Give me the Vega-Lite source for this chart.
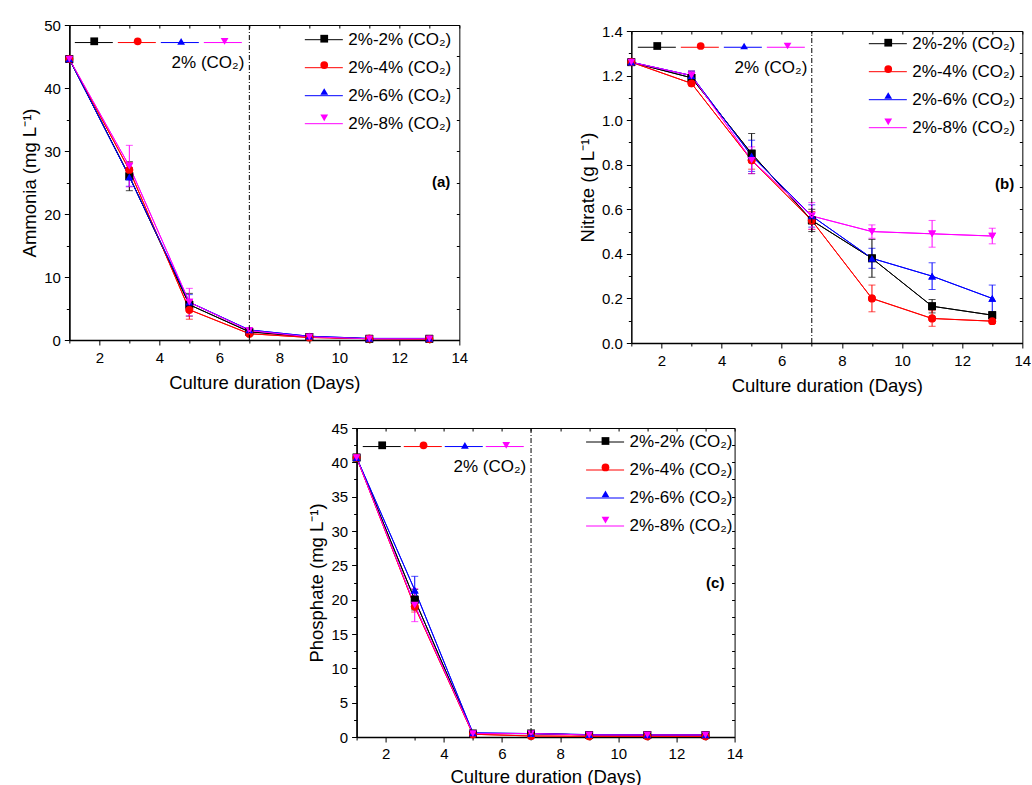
{
  "$schema": "https://vega.github.io/schema/vega-lite/v6.json",
  "background": "white",
  "padding": {"left": 20, "top": 17, "right": 0, "bottom": 0},
  "spacing": 25,
  "center": true,
  "datasets": {
    "ammonia": [
      {"day": 1, "series": "2%-2% (CO₂)", "value": 44.6, "err": 0.4},
      {"day": 1, "series": "2%-4% (CO₂)", "value": 44.6, "err": 0.4},
      {"day": 1, "series": "2%-6% (CO₂)", "value": 44.6, "err": 0.4},
      {"day": 1, "series": "2%-8% (CO₂)", "value": 44.6, "err": 0.4},
      {"day": 3, "series": "2%-2% (CO₂)", "value": 26.0, "err": 2.3},
      {"day": 3, "series": "2%-4% (CO₂)", "value": 27.0, "err": 1.2},
      {"day": 3, "series": "2%-6% (CO₂)", "value": 25.9, "err": 1.5},
      {"day": 3, "series": "2%-8% (CO₂)", "value": 27.6, "err": 3.3},
      {"day": 5, "series": "2%-2% (CO₂)", "value": 5.6, "err": 1.8},
      {"day": 5, "series": "2%-4% (CO₂)", "value": 4.8, "err": 1.5},
      {"day": 5, "series": "2%-6% (CO₂)", "value": 6.0, "err": 1.2},
      {"day": 5, "series": "2%-8% (CO₂)", "value": 6.0, "err": 2.2},
      {"day": 7, "series": "2%-2% (CO₂)", "value": 1.3, "err": 0.2},
      {"day": 7, "series": "2%-4% (CO₂)", "value": 1.0, "err": 0.2},
      {"day": 7, "series": "2%-6% (CO₂)", "value": 1.6, "err": 0.3},
      {"day": 7, "series": "2%-8% (CO₂)", "value": 1.5, "err": 0.3},
      {"day": 9, "series": "2%-2% (CO₂)", "value": 0.5, "err": 0.1},
      {"day": 9, "series": "2%-4% (CO₂)", "value": 0.4, "err": 0.1},
      {"day": 9, "series": "2%-6% (CO₂)", "value": 0.6, "err": 0.1},
      {"day": 9, "series": "2%-8% (CO₂)", "value": 0.5, "err": 0.1},
      {"day": 11, "series": "2%-2% (CO₂)", "value": 0.2, "err": 0.05},
      {"day": 11, "series": "2%-4% (CO₂)", "value": 0.2, "err": 0.05},
      {"day": 11, "series": "2%-6% (CO₂)", "value": 0.25, "err": 0.05},
      {"day": 11, "series": "2%-8% (CO₂)", "value": 0.2, "err": 0.05},
      {"day": 13, "series": "2%-2% (CO₂)", "value": 0.2, "err": 0.05},
      {"day": 13, "series": "2%-4% (CO₂)", "value": 0.15, "err": 0.05},
      {"day": 13, "series": "2%-6% (CO₂)", "value": 0.25, "err": 0.05},
      {"day": 13, "series": "2%-8% (CO₂)", "value": 0.2, "err": 0.05}
    ],
    "nitrate": [
      {"day": 1, "series": "2%-2% (CO₂)", "value": 1.26, "err": 0.01},
      {"day": 1, "series": "2%-4% (CO₂)", "value": 1.26, "err": 0.01},
      {"day": 1, "series": "2%-6% (CO₂)", "value": 1.26, "err": 0.01},
      {"day": 1, "series": "2%-8% (CO₂)", "value": 1.26, "err": 0.01},
      {"day": 3, "series": "2%-2% (CO₂)", "value": 1.19, "err": 0.03},
      {"day": 3, "series": "2%-4% (CO₂)", "value": 1.165, "err": 0.01},
      {"day": 3, "series": "2%-6% (CO₂)", "value": 1.2, "err": 0.02},
      {"day": 3, "series": "2%-8% (CO₂)", "value": 1.2, "err": 0.02},
      {"day": 5, "series": "2%-2% (CO₂)", "value": 0.85, "err": 0.09},
      {"day": 5, "series": "2%-4% (CO₂)", "value": 0.82, "err": 0.04},
      {"day": 5, "series": "2%-6% (CO₂)", "value": 0.84, "err": 0.07},
      {"day": 5, "series": "2%-8% (CO₂)", "value": 0.82, "err": 0.06},
      {"day": 7, "series": "2%-2% (CO₂)", "value": 0.55, "err": 0.05},
      {"day": 7, "series": "2%-4% (CO₂)", "value": 0.55, "err": 0.04},
      {"day": 7, "series": "2%-6% (CO₂)", "value": 0.57, "err": 0.05},
      {"day": 7, "series": "2%-8% (CO₂)", "value": 0.57, "err": 0.06},
      {"day": 9, "series": "2%-2% (CO₂)", "value": 0.38, "err": 0.085},
      {"day": 9, "series": "2%-4% (CO₂)", "value": 0.2, "err": 0.06},
      {"day": 9, "series": "2%-6% (CO₂)", "value": 0.38, "err": 0.045},
      {"day": 9, "series": "2%-8% (CO₂)", "value": 0.5, "err": 0.03},
      {"day": 11, "series": "2%-2% (CO₂)", "value": 0.165, "err": 0.03},
      {"day": 11, "series": "2%-4% (CO₂)", "value": 0.11, "err": 0.035},
      {"day": 11, "series": "2%-6% (CO₂)", "value": 0.3, "err": 0.06},
      {"day": 11, "series": "2%-8% (CO₂)", "value": 0.49, "err": 0.06},
      {"day": 13, "series": "2%-2% (CO₂)", "value": 0.125, "err": 0.01},
      {"day": 13, "series": "2%-4% (CO₂)", "value": 0.098, "err": 0.01},
      {"day": 13, "series": "2%-6% (CO₂)", "value": 0.2, "err": 0.06},
      {"day": 13, "series": "2%-8% (CO₂)", "value": 0.48, "err": 0.035}
    ],
    "phosphate": [
      {"day": 1, "series": "2%-2% (CO₂)", "value": 40.7, "err": 0.4},
      {"day": 1, "series": "2%-4% (CO₂)", "value": 40.7, "err": 0.4},
      {"day": 1, "series": "2%-6% (CO₂)", "value": 40.7, "err": 0.4},
      {"day": 1, "series": "2%-8% (CO₂)", "value": 40.7, "err": 0.4},
      {"day": 3, "series": "2%-2% (CO₂)", "value": 20.0, "err": 1.5},
      {"day": 3, "series": "2%-4% (CO₂)", "value": 19.0, "err": 0.8},
      {"day": 3, "series": "2%-6% (CO₂)", "value": 21.4, "err": 2.0},
      {"day": 3, "series": "2%-8% (CO₂)", "value": 19.2, "err": 2.4},
      {"day": 5, "series": "2%-2% (CO₂)", "value": 0.5, "err": 0.2},
      {"day": 5, "series": "2%-4% (CO₂)", "value": 0.4, "err": 0.2},
      {"day": 5, "series": "2%-6% (CO₂)", "value": 0.6, "err": 0.2},
      {"day": 5, "series": "2%-8% (CO₂)", "value": 0.5, "err": 0.2},
      {"day": 7, "series": "2%-2% (CO₂)", "value": 0.5, "err": 0.1},
      {"day": 7, "series": "2%-4% (CO₂)", "value": 0.15, "err": 0.1},
      {"day": 7, "series": "2%-6% (CO₂)", "value": 0.5, "err": 0.1},
      {"day": 7, "series": "2%-8% (CO₂)", "value": 0.5, "err": 0.1},
      {"day": 9, "series": "2%-2% (CO₂)", "value": 0.3, "err": 0.1},
      {"day": 9, "series": "2%-4% (CO₂)", "value": 0.1, "err": 0.05},
      {"day": 9, "series": "2%-6% (CO₂)", "value": 0.35, "err": 0.1},
      {"day": 9, "series": "2%-8% (CO₂)", "value": 0.3, "err": 0.1},
      {"day": 11, "series": "2%-2% (CO₂)", "value": 0.3, "err": 0.1},
      {"day": 11, "series": "2%-4% (CO₂)", "value": 0.1, "err": 0.05},
      {"day": 11, "series": "2%-6% (CO₂)", "value": 0.3, "err": 0.1},
      {"day": 11, "series": "2%-8% (CO₂)", "value": 0.3, "err": 0.1},
      {"day": 13, "series": "2%-2% (CO₂)", "value": 0.3, "err": 0.1},
      {"day": 13, "series": "2%-4% (CO₂)", "value": 0.1, "err": 0.05},
      {"day": 13, "series": "2%-6% (CO₂)", "value": 0.3, "err": 0.1},
      {"day": 13, "series": "2%-8% (CO₂)", "value": 0.3, "err": 0.1}
    ]
  },
  "vconcat": [
    {
      "spacing": 110,
      "hconcat": [
        {
          "width": 390,
          "height": 315,
          "data": {"name": "ammonia"},
          "resolve": {"axis": {"x": "independent", "y": "independent"}, "legend": {"color": "independent", "shape": "independent"}},
          "layer": [
            {
              "mark": {"type": "errorbar", "ticks": {"size": 7}, "thickness": 1},
              "encoding": {
                "x": {"field": "day", "type": "quantitative", "scale": {"domain": [1, 14], "nice": false, "zero": false}, "axis": null},
                "y": {"field": "value", "type": "quantitative", "scale": {"domain": [0, 50], "nice": false}, "axis": null},
                "yError": {"field": "err"},
                "color": {"field": "series", "type": "nominal", "scale": {"domain": ["2%-2% (CO₂)", "2%-4% (CO₂)", "2%-6% (CO₂)", "2%-8% (CO₂)"], "range": ["#000000", "#ff0000", "#0000ff", "#ff00ff"]}, "legend": null}
              }
            },
            {
              "mark": {"type": "line", "strokeWidth": 1},
              "encoding": {
                "x": {"field": "day", "type": "quantitative", "scale": {"domain": [1, 14], "nice": false, "zero": false}, "axis": {"orient": "bottom", "values": [2, 4, 6, 8, 10, 12, 14], "tickSize": 5, "domainWidth": 1.5, "title": "Culture duration (Days)", "titlePadding": 8, "labelPadding": 5, "labelFlush": false}},
                "y": {"field": "value", "type": "quantitative", "scale": {"domain": [0, 50], "nice": false}, "axis": {"orient": "left", "values": [0, 10, 20, 30, 40, 50], "tickSize": 5, "domainWidth": 1.5, "title": "Ammonia (mg L⁻¹)", "titlePadding": 4, "labelPadding": 4}},
                "color": {"field": "series", "type": "nominal", "scale": {"domain": ["2%-2% (CO₂)", "2%-4% (CO₂)", "2%-6% (CO₂)", "2%-8% (CO₂)"], "range": ["#000000", "#ff0000", "#0000ff", "#ff00ff"]},
                  "legend": {"orient": "none", "legendX": 235, "legendY": -4.8, "title": null, "symbolType": "stroke", "symbolSize": 1444, "symbolStrokeWidth": 1, "labelFontSize": 17, "labelOffset": 5, "rowPadding": 0, "padding": 0}}
              }
            },
            {
              "mark": {"type": "line", "strokeWidth": 1},
              "encoding": {
                "x": {"field": "day", "type": "quantitative", "scale": {"domain": [1, 14], "nice": false, "zero": false}, "axis": {"orient": "bottom", "values": [1, 3, 5, 7, 9, 11, 13], "tickSize": 3, "labels": false, "domain": false, "title": null}},
                "y": {"field": "value", "type": "quantitative", "scale": {"domain": [0, 50], "nice": false}, "axis": {"orient": "left", "values": [5, 15, 25, 35, 45], "tickSize": 3, "labels": false, "domain": false, "title": null}},
                "color": {"field": "series", "type": "nominal", "scale": {"domain": ["2%-2% (CO₂)", "2%-4% (CO₂)", "2%-6% (CO₂)", "2%-8% (CO₂)"], "range": ["#000000", "#ff0000", "#0000ff", "#ff00ff"]},
                  "legend": {"orient": "none", "legendX": 5, "legendY": -2.2, "direction": "horizontal", "title": "2% (CO₂)", "titleOrient": "bottom", "titleAnchor": "end", "titleFontSize": 17, "titleFontWeight": "normal", "titlePadding": 4.5, "symbolType": "stroke", "symbolSize": 1444, "symbolStrokeWidth": 1, "labelExpr": "''", "labelOffset": 0, "labelFontSize": 16, "columnPadding": 0, "padding": 0}}
              }
            },
            {
              "mark": {"type": "point", "filled": true, "size": 60, "opacity": 1},
              "encoding": {
                "x": {"field": "day", "type": "quantitative", "scale": {"domain": [1, 14], "nice": false, "zero": false}, "axis": {"orient": "top", "values": [1, 2, 3, 4, 5, 6, 7, 8, 9, 10, 11, 12, 13, 14], "tickSize": -3, "labels": false, "domain": false, "title": null}},
                "y": {"field": "value", "type": "quantitative", "scale": {"domain": [0, 50], "nice": false}, "axis": {"orient": "right", "values": [0, 5, 10, 15, 20, 25, 30, 35, 40, 45, 50], "tickSize": -3, "labels": false, "domain": false, "title": null}},
                "color": {"field": "series", "type": "nominal", "scale": {"domain": ["2%-2% (CO₂)", "2%-4% (CO₂)", "2%-6% (CO₂)", "2%-8% (CO₂)"], "range": ["#000000", "#ff0000", "#0000ff", "#ff00ff"]},
                  "legend": {"orient": "none", "legendX": 246.9, "legendY": 5.7, "title": null, "symbolSize": 60, "labelExpr": "''", "labelFontSize": 16, "labelOffset": 5, "rowPadding": 10.4, "padding": 0}},
                "shape": {"field": "series", "type": "nominal", "scale": {"domain": ["2%-2% (CO₂)", "2%-4% (CO₂)", "2%-6% (CO₂)", "2%-8% (CO₂)"], "range": ["square", "circle", "triangle-up", "triangle-down"]},
                  "legend": {"orient": "none", "legendX": 246.9, "legendY": 5.7, "title": null, "symbolSize": 60, "labelExpr": "''", "labelFontSize": 16, "labelOffset": 5, "rowPadding": 10.4, "padding": 0}}
              }
            },
            {
              "mark": {"type": "point", "filled": true, "size": 60, "opacity": 1},
              "encoding": {
                "x": {"field": "day", "type": "quantitative", "scale": {"domain": [1, 14], "nice": false, "zero": false}, "axis": null},
                "y": {"field": "value", "type": "quantitative", "scale": {"domain": [0, 50], "nice": false}, "axis": null},
                "color": {"field": "series", "type": "nominal", "scale": {"domain": ["2%-2% (CO₂)", "2%-4% (CO₂)", "2%-6% (CO₂)", "2%-8% (CO₂)"], "range": ["#000000", "#ff0000", "#0000ff", "#ff00ff"]},
                  "legend": {"orient": "none", "legendX": 16.9, "legendY": 8.3, "direction": "horizontal", "title": null, "symbolSize": 60, "labelExpr": "''", "labelOffset": 0, "labelFontSize": 16, "columnPadding": 27.45, "padding": 0}},
                "shape": {"field": "series", "type": "nominal", "scale": {"domain": ["2%-2% (CO₂)", "2%-4% (CO₂)", "2%-6% (CO₂)", "2%-8% (CO₂)"], "range": ["square", "circle", "triangle-up", "triangle-down"]},
                  "legend": {"orient": "none", "legendX": 16.9, "legendY": 8.3, "direction": "horizontal", "title": null, "symbolSize": 60, "labelExpr": "''", "labelOffset": 0, "labelFontSize": 16, "columnPadding": 27.45, "padding": 0}}
              }
            },
            {
              "data": {"values": [{}]},
              "mark": {"type": "rule", "color": "#000", "strokeWidth": 1, "strokeDash": [5, 2, 1, 2]},
              "encoding": {"x": {"datum": 7, "type": "quantitative", "axis": null}}
            },
            {
              "data": {"values": [{}]},
              "mark": {"type": "text", "text": "(a)", "fontWeight": "bold", "fontSize": 15, "align": "right", "baseline": "middle", "color": "#000"},
              "encoding": {"x": {"datum": 13.7, "type": "quantitative", "axis": null}, "y": {"datum": 25.1, "type": "quantitative", "axis": null}}
            }
          ]
        },
        {
          "width": 391,
          "height": 318,
          "view": {"stroke": null},
          "data": {"name": "nitrate"},
          "resolve": {"axis": {"x": "independent", "y": "independent"}, "legend": {"color": "independent", "shape": "independent"}},
          "layer": [
            {
              "mark": {"type": "errorbar", "ticks": {"size": 7}, "thickness": 1},
              "encoding": {
                "x": {"field": "day", "type": "quantitative", "scale": {"domain": [1, 14], "nice": false, "zero": false}, "axis": null},
                "y": {"field": "value", "type": "quantitative", "scale": {"domain": [0, 1.4], "nice": false, "range": [318, 6]}, "axis": null},
                "yError": {"field": "err"},
                "color": {"field": "series", "type": "nominal", "scale": {"domain": ["2%-2% (CO₂)", "2%-4% (CO₂)", "2%-6% (CO₂)", "2%-8% (CO₂)"], "range": ["#000000", "#ff0000", "#0000ff", "#ff00ff"]}, "legend": null}
              }
            },
            {
              "mark": {"type": "line", "strokeWidth": 1},
              "encoding": {
                "x": {"field": "day", "type": "quantitative", "scale": {"domain": [1, 14], "nice": false, "zero": false}, "axis": {"orient": "bottom", "values": [2, 4, 6, 8, 10, 12, 14], "tickSize": 5, "domainWidth": 1.5, "title": "Culture duration (Days)", "titlePadding": 8, "labelPadding": 5, "labelFlush": false}},
                "y": {"field": "value", "type": "quantitative", "scale": {"domain": [0, 1.4], "nice": false, "range": [318, 6]}, "axis": {"orient": "left", "values": [0, 0.2, 0.4, 0.6, 0.8, 1.0, 1.2, 1.4], "format": ".1f", "tickSize": 5, "domainWidth": 1.5, "title": "Nitrate (g L⁻¹)", "titlePadding": 4, "labelPadding": 4}},
                "color": {"field": "series", "type": "nominal", "scale": {"domain": ["2%-2% (CO₂)", "2%-4% (CO₂)", "2%-6% (CO₂)", "2%-8% (CO₂)"], "range": ["#000000", "#ff0000", "#0000ff", "#ff00ff"]},
                  "legend": {"orient": "none", "legendX": 237, "legendY": -0.8, "title": null, "symbolType": "stroke", "symbolSize": 1444, "symbolStrokeWidth": 1, "labelFontSize": 17, "labelOffset": 5, "rowPadding": 0, "padding": 0}}
              }
            },
            {
              "mark": {"type": "line", "strokeWidth": 1},
              "encoding": {
                "x": {"field": "day", "type": "quantitative", "scale": {"domain": [1, 14], "nice": false, "zero": false}, "axis": {"orient": "bottom", "values": [1, 3, 5, 7, 9, 11, 13], "tickSize": 3, "labels": false, "domain": false, "title": null}},
                "y": {"field": "value", "type": "quantitative", "scale": {"domain": [0, 1.4], "nice": false, "range": [318, 6]}, "axis": {"orient": "left", "values": [0.1, 0.3, 0.5, 0.7, 0.9, 1.1, 1.3], "tickSize": 3, "labels": false, "domain": false, "title": null}},
                "color": {"field": "series", "type": "nominal", "scale": {"domain": ["2%-2% (CO₂)", "2%-4% (CO₂)", "2%-6% (CO₂)", "2%-8% (CO₂)"], "range": ["#000000", "#ff0000", "#0000ff", "#ff00ff"]},
                  "legend": {"orient": "none", "legendX": 6, "legendY": 2.5, "direction": "horizontal", "title": "2% (CO₂)", "titleOrient": "bottom", "titleAnchor": "end", "titleFontSize": 17, "titleFontWeight": "normal", "titlePadding": 4.5, "symbolType": "stroke", "symbolSize": 1444, "symbolStrokeWidth": 1, "labelExpr": "''", "labelOffset": 0, "labelFontSize": 16, "columnPadding": 0, "padding": 0}}
              }
            },
            {
              "mark": {"type": "point", "filled": true, "size": 60, "opacity": 1},
              "encoding": {
                "x": {"field": "day", "type": "quantitative", "scale": {"domain": [1, 14], "nice": false, "zero": false}, "axis": {"orient": "top", "offset": -6, "values": [1, 2, 3, 4, 5, 6, 7, 8, 9, 10, 11, 12, 13, 14], "tickSize": -3, "labels": false, "domain": true, "domainWidth": 1, "title": null}},
                "y": {"field": "value", "type": "quantitative", "scale": {"domain": [0, 1.4], "nice": false, "range": [318, 6]}, "axis": {"orient": "right", "values": [0, 0.1, 0.2, 0.3, 0.4, 0.5, 0.6, 0.7, 0.8, 0.9, 1.0, 1.1, 1.2, 1.3, 1.4], "tickSize": -3, "labels": false, "domain": true, "domainWidth": 1, "title": null}},
                "color": {"field": "series", "type": "nominal", "scale": {"domain": ["2%-2% (CO₂)", "2%-4% (CO₂)", "2%-6% (CO₂)", "2%-8% (CO₂)"], "range": ["#000000", "#ff0000", "#0000ff", "#ff00ff"]},
                  "legend": {"orient": "none", "legendX": 248.9, "legendY": 9.7, "title": null, "symbolSize": 60, "labelExpr": "''", "labelFontSize": 16, "labelOffset": 5, "rowPadding": 10.4, "padding": 0}},
                "shape": {"field": "series", "type": "nominal", "scale": {"domain": ["2%-2% (CO₂)", "2%-4% (CO₂)", "2%-6% (CO₂)", "2%-8% (CO₂)"], "range": ["square", "circle", "triangle-up", "triangle-down"]},
                  "legend": {"orient": "none", "legendX": 248.9, "legendY": 9.7, "title": null, "symbolSize": 60, "labelExpr": "''", "labelFontSize": 16, "labelOffset": 5, "rowPadding": 10.4, "padding": 0}}
              }
            },
            {
              "mark": {"type": "point", "filled": true, "size": 60, "opacity": 1},
              "encoding": {
                "x": {"field": "day", "type": "quantitative", "scale": {"domain": [1, 14], "nice": false, "zero": false}, "axis": null},
                "y": {"field": "value", "type": "quantitative", "scale": {"domain": [0, 1.4], "nice": false, "range": [318, 6]}, "axis": null},
                "color": {"field": "series", "type": "nominal", "scale": {"domain": ["2%-2% (CO₂)", "2%-4% (CO₂)", "2%-6% (CO₂)", "2%-8% (CO₂)"], "range": ["#000000", "#ff0000", "#0000ff", "#ff00ff"]},
                  "legend": {"orient": "none", "legendX": 17.9, "legendY": 13, "direction": "horizontal", "title": null, "symbolSize": 60, "labelExpr": "''", "labelOffset": 0, "labelFontSize": 16, "columnPadding": 27.45, "padding": 0}},
                "shape": {"field": "series", "type": "nominal", "scale": {"domain": ["2%-2% (CO₂)", "2%-4% (CO₂)", "2%-6% (CO₂)", "2%-8% (CO₂)"], "range": ["square", "circle", "triangle-up", "triangle-down"]},
                  "legend": {"orient": "none", "legendX": 17.9, "legendY": 13, "direction": "horizontal", "title": null, "symbolSize": 60, "labelExpr": "''", "labelOffset": 0, "labelFontSize": 16, "columnPadding": 27.45, "padding": 0}}
              }
            },
            {
              "data": {"values": [{}]},
              "mark": {"type": "rule", "color": "#000", "strokeWidth": 1, "strokeDash": [5, 2, 1, 2]},
              "encoding": {"x": {"datum": 7, "type": "quantitative", "axis": null}, "y": {"datum": 0, "type": "quantitative", "axis": null}, "y2": {"datum": 1.4}}
            },
            {
              "data": {"values": [{}]},
              "mark": {"type": "text", "text": "(b)", "fontWeight": "bold", "fontSize": 15, "align": "right", "baseline": "middle", "color": "#000"},
              "encoding": {"x": {"datum": 13.73, "type": "quantitative", "axis": null}, "y": {"datum": 0.712, "type": "quantitative", "axis": null}}
            }
          ]
        }
      ]
    },
    {
      "width": 378,
      "height": 309,
      "data": {"name": "phosphate"},
      "resolve": {"axis": {"x": "independent", "y": "independent"}, "legend": {"color": "independent", "shape": "independent"}},
      "layer": [
        {
          "mark": {"type": "errorbar", "ticks": {"size": 7}, "thickness": 1},
          "encoding": {
            "x": {"field": "day", "type": "quantitative", "scale": {"domain": [1, 14], "nice": false, "zero": false}, "axis": null},
            "y": {"field": "value", "type": "quantitative", "scale": {"domain": [0, 45], "nice": false}, "axis": null},
            "yError": {"field": "err"},
            "color": {"field": "series", "type": "nominal", "scale": {"domain": ["2%-2% (CO₂)", "2%-4% (CO₂)", "2%-6% (CO₂)", "2%-8% (CO₂)"], "range": ["#000000", "#ff0000", "#0000ff", "#ff00ff"]}, "legend": null}
          }
        },
        {
          "mark": {"type": "line", "strokeWidth": 1},
          "encoding": {
            "x": {"field": "day", "type": "quantitative", "scale": {"domain": [1, 14], "nice": false, "zero": false}, "axis": {"orient": "bottom", "values": [2, 4, 6, 8, 10, 12, 14], "tickSize": 5, "domainWidth": 1.5, "title": "Culture duration (Days)", "titlePadding": 6, "labelPadding": 4, "labelFlush": false}},
            "y": {"field": "value", "type": "quantitative", "scale": {"domain": [0, 45], "nice": false}, "axis": {"orient": "left", "values": [0, 5, 10, 15, 20, 25, 30, 35, 40, 45], "tickSize": 5, "domainWidth": 1.5, "title": "Phosphate (mg L⁻¹)", "titlePadding": 4, "labelPadding": 4}},
            "color": {"field": "series", "type": "nominal", "scale": {"domain": ["2%-2% (CO₂)", "2%-4% (CO₂)", "2%-6% (CO₂)", "2%-8% (CO₂)"], "range": ["#000000", "#ff0000", "#0000ff", "#ff00ff"]},
              "legend": {"orient": "none", "legendX": 229, "legendY": -5.5, "title": null, "symbolType": "stroke", "symbolSize": 1444, "symbolStrokeWidth": 1, "labelFontSize": 17, "labelOffset": 5, "rowPadding": 0, "padding": 0}}
          }
        },
        {
          "mark": {"type": "line", "strokeWidth": 1},
          "encoding": {
            "x": {"field": "day", "type": "quantitative", "scale": {"domain": [1, 14], "nice": false, "zero": false}, "axis": {"orient": "bottom", "values": [1, 3, 5, 7, 9, 11, 13], "tickSize": 3, "labels": false, "domain": false, "title": null}},
            "y": {"field": "value", "type": "quantitative", "scale": {"domain": [0, 45], "nice": false}, "axis": {"orient": "left", "values": [2.5, 7.5, 12.5, 17.5, 22.5, 27.5, 32.5, 37.5, 42.5], "tickSize": 3, "labels": false, "domain": false, "title": null}},
            "color": {"field": "series", "type": "nominal", "scale": {"domain": ["2%-2% (CO₂)", "2%-4% (CO₂)", "2%-6% (CO₂)", "2%-8% (CO₂)"], "range": ["#000000", "#ff0000", "#0000ff", "#ff00ff"]},
              "legend": {"orient": "none", "legendX": 5.7, "legendY": -1.2, "direction": "horizontal", "title": "2% (CO₂)", "titleOrient": "bottom", "titleAnchor": "end", "titleFontSize": 17, "titleFontWeight": "normal", "titlePadding": 4.5, "symbolType": "stroke", "symbolSize": 1444, "symbolStrokeWidth": 1, "labelExpr": "''", "labelOffset": 0, "labelFontSize": 16, "columnPadding": -2.1, "padding": 0}}
          }
        },
        {
          "mark": {"type": "point", "filled": true, "size": 60, "opacity": 1},
          "encoding": {
            "x": {"field": "day", "type": "quantitative", "scale": {"domain": [1, 14], "nice": false, "zero": false}, "axis": {"orient": "top", "values": [1, 2, 3, 4, 5, 6, 7, 8, 9, 10, 11, 12, 13, 14], "tickSize": -3, "labels": false, "domain": false, "title": null}},
            "y": {"field": "value", "type": "quantitative", "scale": {"domain": [0, 45], "nice": false}, "axis": {"orient": "right", "values": [0, 2.5, 5, 7.5, 10, 12.5, 15, 17.5, 20, 22.5, 25, 27.5, 30, 32.5, 35, 37.5, 40, 42.5, 45], "tickSize": -3, "labels": false, "domain": false, "title": null}},
            "color": {"field": "series", "type": "nominal", "scale": {"domain": ["2%-2% (CO₂)", "2%-4% (CO₂)", "2%-6% (CO₂)", "2%-8% (CO₂)"], "range": ["#000000", "#ff0000", "#0000ff", "#ff00ff"]},
              "legend": {"orient": "none", "legendX": 240.9, "legendY": 5, "title": null, "symbolSize": 60, "labelExpr": "''", "labelFontSize": 16, "labelOffset": 5, "rowPadding": 10.4, "padding": 0}},
            "shape": {"field": "series", "type": "nominal", "scale": {"domain": ["2%-2% (CO₂)", "2%-4% (CO₂)", "2%-6% (CO₂)", "2%-8% (CO₂)"], "range": ["square", "circle", "triangle-up", "triangle-down"]},
              "legend": {"orient": "none", "legendX": 240.9, "legendY": 5, "title": null, "symbolSize": 60, "labelExpr": "''", "labelFontSize": 16, "labelOffset": 5, "rowPadding": 10.4, "padding": 0}}
          }
        },
        {
          "mark": {"type": "point", "filled": true, "size": 60, "opacity": 1},
          "encoding": {
            "x": {"field": "day", "type": "quantitative", "scale": {"domain": [1, 14], "nice": false, "zero": false}, "axis": null},
            "y": {"field": "value", "type": "quantitative", "scale": {"domain": [0, 45], "nice": false}, "axis": null},
            "color": {"field": "series", "type": "nominal", "scale": {"domain": ["2%-2% (CO₂)", "2%-4% (CO₂)", "2%-6% (CO₂)", "2%-8% (CO₂)"], "range": ["#000000", "#ff0000", "#0000ff", "#ff00ff"]},
              "legend": {"orient": "none", "legendX": 17.6, "legendY": 9.3, "direction": "horizontal", "title": null, "symbolSize": 60, "labelExpr": "''", "labelOffset": 0, "labelFontSize": 16, "columnPadding": 25.35, "padding": 0}},
            "shape": {"field": "series", "type": "nominal", "scale": {"domain": ["2%-2% (CO₂)", "2%-4% (CO₂)", "2%-6% (CO₂)", "2%-8% (CO₂)"], "range": ["square", "circle", "triangle-up", "triangle-down"]},
              "legend": {"orient": "none", "legendX": 17.6, "legendY": 9.3, "direction": "horizontal", "title": null, "symbolSize": 60, "labelExpr": "''", "labelOffset": 0, "labelFontSize": 16, "columnPadding": 25.35, "padding": 0}}
          }
        },
        {
          "data": {"values": [{}]},
          "mark": {"type": "rule", "color": "#000", "strokeWidth": 1, "strokeDash": [5, 2, 1, 2]},
          "encoding": {"x": {"datum": 7, "type": "quantitative", "axis": null}}
        },
        {
          "data": {"values": [{}]},
          "mark": {"type": "text", "text": "(c)", "fontWeight": "bold", "fontSize": 15, "align": "right", "baseline": "middle", "color": "#000"},
          "encoding": {"x": {"datum": 13.65, "type": "quantitative", "axis": null}, "y": {"datum": 22.5, "type": "quantitative", "axis": null}}
        }
      ]
    }
  ],
  "config": {
    "font": "Liberation Sans",
    "view": {"stroke": "#000", "strokeWidth": 1},
    "axis": {
      "grid": false,
      "labelFont": "Liberation Sans",
      "labelFontSize": 15,
      "labelColor": "#000",
      "titleFont": "Liberation Sans",
      "titleFontSize": 18.5,
      "titleFontWeight": "normal",
      "titleColor": "#000",
      "domainColor": "#000",
      "tickColor": "#000",
      "tickWidth": 1,
      "minExtent": 0
    },
    "legend": {
      "labelFont": "Liberation Sans",
      "labelColor": "#000",
      "titleFont": "Liberation Sans",
      "titleColor": "#000"
    }
  }
}
